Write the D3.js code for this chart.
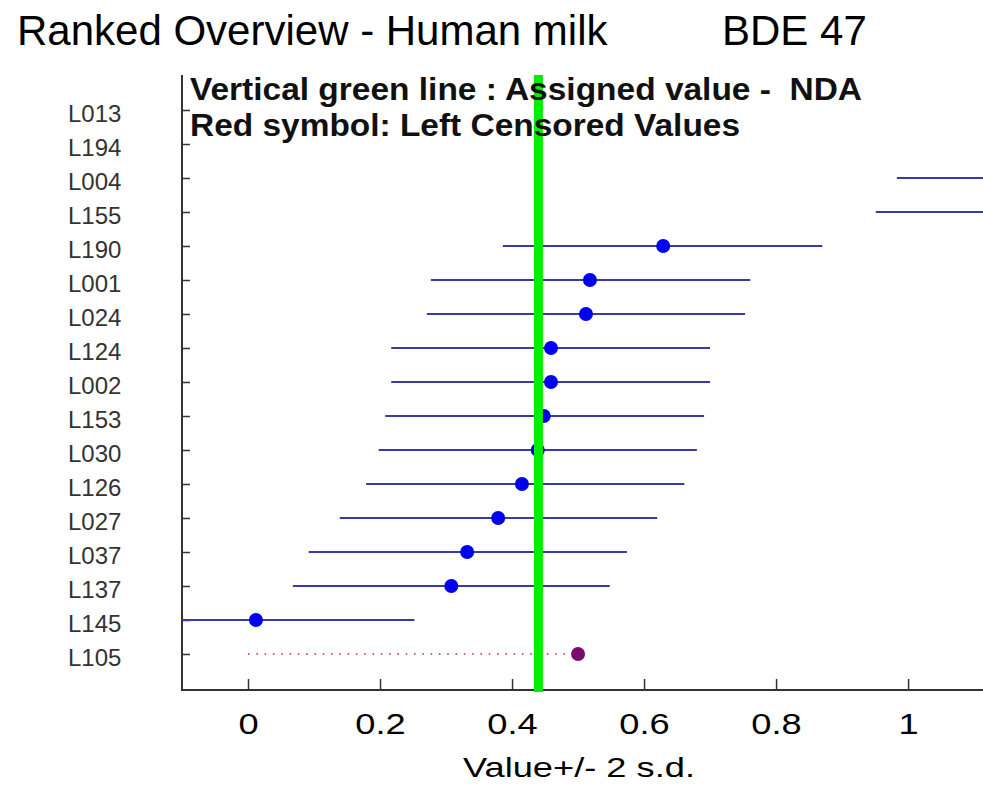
<!DOCTYPE html>
<html>
<head>
<meta charset="utf-8">
<script src="https://cdn.jsdelivr.net/npm/d3@7"></script>
<style>
  html, body { margin: 0; padding: 0; background: #fff; }
  svg { display: block; font-family: "Liberation Sans", Arial, sans-serif; }
</style>
</head>
<body>
<svg id="chart" width="983" height="786"></svg>
<script>
// ---- data ----
const labs = ["L013","L194","L004","L155","L190","L001","L024","L124","L002","L153","L030","L126","L027","L037","L137","L145","L105"];
const values = [null, null, 1.22, 1.19, 0.629, 0.518, 0.512, 0.459, 0.459, 0.448, 0.439, 0.415, 0.379, 0.332, 0.308, 0.012, 0.500];
const lower  = [null, null, 0.983, 0.951, 0.386, 0.277, 0.271, 0.217, 0.217, 0.208, 0.198, 0.179, 0.139, 0.092, 0.068, -0.228, 0];
const upper  = [null, null, 1.46, 1.43, 0.870, 0.761, 0.753, 0.700, 0.700, 0.691, 0.680, 0.661, 0.620, 0.574, 0.548, 0.252, null];
const censored = [false,false,false,false,false,false,false,false,false,false,false,false,false,false,false,false,true];
const assignedValue = 0.44;
const xTicks = [0, 0.2, 0.4, 0.6, 0.8, 1];
const xTickLabels = ["0", "0.2", "0.4", "0.6", "0.8", "1"];

const rows = labs.map((l, i) => ({lab: l, v: values[i], lo: lower[i], hi: upper[i], cens: censored[i]}));

const svg = d3.select("#chart");
const L = 182, R = 984, T = 75, B = 690;

const x = d3.scaleLinear().domain([-0.1, 1.115]).range([L, R]);
const y = d3.scalePoint().domain(labs).range([76, 688]).padding(1);

svg.append("defs").append("clipPath").attr("id", "plotclip")
  .append("rect").attr("x", L).attr("y", T).attr("width", R - L).attr("height", B - T);

// ---- titles ----
svg.append("text").attr("x", 17).attr("y", 45).attr("font-size", 42).attr("fill", "#000")
  .text("Ranked Overview - Human milk");
svg.append("text").attr("x", 722).attr("y", 45).attr("font-size", 42).attr("fill", "#000")
  .text("BDE 47");

// ---- axes ----
const yAxis = d3.axisLeft(y).tickSizeInner(-8).tickSizeOuter(0);
const gy = svg.append("g").attr("transform", `translate(${L},0)`).call(yAxis);
gy.select(".domain").remove();
gy.selectAll(".tick line").attr("stroke", "#333").attr("stroke-width", 1.5);
gy.selectAll(".tick text").attr("x", 68 - L).attr("dy", "0.32em").attr("y", 4)
  .attr("text-anchor", "start").attr("font-size", 24).attr("fill", "#333")
  .attr("font-family", "Liberation Sans, Arial, sans-serif");

const xAxis = d3.axisBottom(x).tickValues(xTicks).tickFormat((d, i) => xTickLabels[i])
  .tickSizeInner(-11).tickSizeOuter(0);
const gx = svg.append("g").attr("transform", `translate(0,${B})`).call(xAxis);
gx.select(".domain").remove();
gx.selectAll(".tick line").attr("stroke", "#333").attr("stroke-width", 1.5);
gx.selectAll(".tick text").attr("y", 44).attr("dy", 0).attr("font-size", 29).attr("fill", "#000")
  .attr("font-family", "Liberation Sans, Arial, sans-serif")
  .each(function () {
    const w = this.getComputedTextLength();
    d3.select(this).attr("textLength", w * 1.25).attr("lengthAdjust", "spacingAndGlyphs");
  });

svg.append("line").attr("x1", L).attr("x2", L).attr("y1", T).attr("y2", B + 1)
  .attr("stroke", "#333").attr("stroke-width", 2);
svg.append("line").attr("x1", L).attr("x2", R).attr("y1", B).attr("y2", B)
  .attr("stroke", "#333").attr("stroke-width", 2);

svg.append("text").attr("x", 579).attr("y", 777).attr("text-anchor", "middle")
  .attr("font-size", 28).attr("fill", "#000")
  .attr("textLength", 232).attr("lengthAdjust", "spacingAndGlyphs")
  .text("Value+/- 2 s.d.");

// ---- data marks ----
const plot = svg.append("g").attr("clip-path", "url(#plotclip)");

plot.selectAll("line.err").data(rows.filter(d => d.v !== null && !d.cens)).enter()
  .append("line").attr("class", "err")
  .attr("x1", d => x(d.lo)).attr("x2", d => x(d.hi))
  .attr("y1", d => y(d.lab)).attr("y2", d => y(d.lab))
  .attr("stroke", "#3a3aa6").attr("stroke-width", 2);

plot.selectAll("line.cens").data(rows.filter(d => d.cens)).enter()
  .append("line").attr("class", "cens")
  .attr("x1", d => x(d.lo)).attr("x2", d => x(d.v))
  .attr("y1", d => y(d.lab)).attr("y2", d => y(d.lab))
  .attr("stroke", "#b0305a").attr("stroke-width", 1.6)
  .attr("stroke-dasharray", "1.6,6.7");

plot.selectAll("circle.pt").data(rows.filter(d => d.v !== null)).enter()
  .append("circle").attr("class", "pt")
  .attr("cx", d => x(d.v)).attr("cy", d => y(d.lab)).attr("r", 7)
  .attr("fill", d => d.cens ? "#7a0a6e" : "#0000f0");

// ---- assigned value line ----
svg.append("line").attr("x1", x(assignedValue)).attr("x2", x(assignedValue))
  .attr("y1", T).attr("y2", B + 2)
  .attr("stroke", "#00ee00").attr("stroke-width", 9);

// ---- annotation ----
svg.append("text").attr("x", 190).attr("y", 100).attr("font-size", 32).attr("font-weight", "bold")
  .attr("fill", "#111").style("white-space", "pre")
  .attr("textLength", 672).attr("lengthAdjust", "spacingAndGlyphs")
  .text("Vertical green line : Assigned value -  NDA");
svg.append("text").attr("x", 190).attr("y", 136).attr("font-size", 32).attr("font-weight", "bold")
  .attr("fill", "#111").style("white-space", "pre")
  .attr("textLength", 550).attr("lengthAdjust", "spacingAndGlyphs")
  .text("Red symbol: Left Censored Values");
</script>
</body>
</html>
